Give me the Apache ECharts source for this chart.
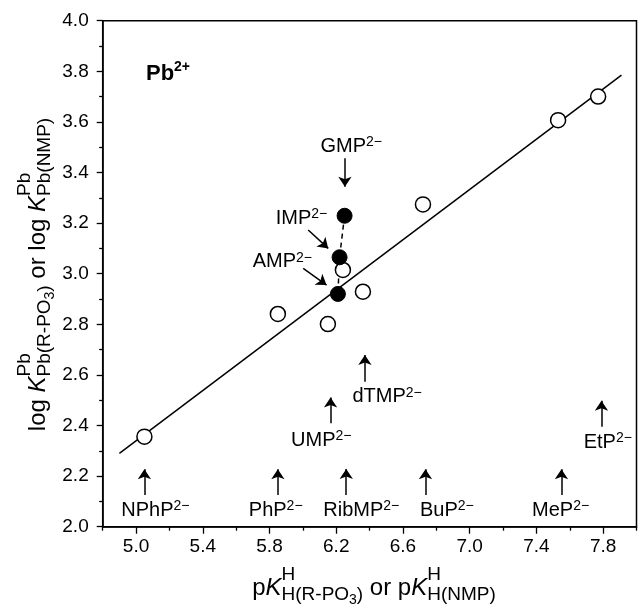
<!DOCTYPE html>
<html>
<head>
<meta charset="utf-8">
<script src="https://cdn.jsdelivr.net/npm/echarts@6/dist/echarts.min.js"></script>
<style>
html, body { margin: 0; padding: 0; background: #fff; }
#chart { width: 638px; height: 604px; }
</style>
</head>
<body>
<div id="chart"></div>
<script>
const FONT = '"Liberation Sans", Arial, sans-serif'

// open circles: simple phosph(on)ates and pyrimidine NMPs
const openNames = ['NPhP', 'PhP', 'UMP', 'RibMP', 'dTMP', 'BuP', 'MeP', 'EtP']
const openX = [5.05, 5.85, 6.15, 6.24, 6.36, 6.72, 7.53, 7.77]
const openY = [2.356, 2.841, 2.801, 3.015, 2.929, 3.274, 3.607, 3.7]

// filled circles: purine NMPs (joined by the dashed line)
const filledNames = ['AMP', 'IMP', 'GMP']
const filledX = [6.21, 6.22, 6.25]
const filledY = [2.92, 3.065, 3.229]

// straight reference line
const lineX = [4.9, 7.91]
const lineY = [2.29, 3.785]

// annotation labels and their arrows
const noteNames = ['NPhP', 'PhP', 'RibMP', 'BuP', 'MeP', 'UMP', 'dTMP', 'EtP', 'GMP', 'IMP', 'AMP']
const noteLabelX = [5.116, 5.837, 6.35, 6.863, 7.545, 6.11, 6.505, 7.828, 6.29, 5.992, 5.877]
const noteLabelY = [2.066, 2.066, 2.066, 2.066, 2.066, 2.342, 2.513, 2.334, 3.503, 3.219, 3.047]
const arrowX1 = [5.05, 5.85, 6.26, 6.735, 7.55, 6.166, 6.372, 7.79, 6.252, 6.032, 6.002]
const arrowY1 = [2.125, 2.125, 2.125, 2.125, 2.125, 2.409, 2.573, 2.395, 3.456, 3.173, 3.021]
const arrowX2 = [5.05, 5.85, 6.26, 6.735, 7.55, 6.166, 6.372, 7.79, 6.252, 6.152, 6.142]
const arrowY2 = [2.227, 2.227, 2.228, 2.227, 2.227, 2.511, 2.679, 2.498, 3.344, 3.1, 2.955]

// ticks
const xMajorTicks = [5.0, 5.4, 5.8, 6.2, 6.6, 7.0, 7.4, 7.8]
const xMinorTicks = [4.8, 5.2, 5.6, 6.0, 6.4, 6.8, 7.2, 7.6, 8.0]
const yMajorTicks = [2.0, 2.2, 2.4, 2.6, 2.8, 3.0, 3.2, 3.4, 3.6, 3.8, 4.0]
const yMinorTicks = [2.1, 2.3, 2.5, 2.7, 2.9, 3.1, 3.3, 3.5, 3.7, 3.9]

const measureCtx = document.createElement('canvas').getContext('2d')

function textWidth(run) {
  measureCtx.font = `${run.italic ? 'italic ' : ''}${run.bold ? 'bold ' : ''}${run.size}px ${FONT}`
  return measureCtx.measureText(run.t).width
}

function makeText(run, x) {
  return {
    type: 'text',
    x,
    y: (run.dy || 0) - run.size * 0.3465,
    style: {
      text: run.t,
      fontSize: run.size,
      fontFamily: FONT,
      fontStyle: run.italic ? 'italic' : 'normal',
      fontWeight: run.bold ? 'bold' : 'normal',
      fill: '#000',
      align: 'left',
      verticalAlign: 'middle',
    },
  }
}

// lays runs out along a baseline; a stack puts sup and sub rows at the same x
function mathText(parts) {
  const els = []
  let x = 0
  for (const p of parts) {
    if (p.stack) {
      let w = 0
      for (const row of p.stack) {
        let rx = x
        for (const r of row) {
          els.push(makeText(r, rx))
          rx += textWidth(r)
        }
        w = Math.max(w, rx - x)
      }
      x += w
    } else {
      els.push(makeText(p, x))
      x += textWidth(p)
    }
  }
  els.forEach((el) => { el.x -= x / 2 })
  return els
}

const M = 24
const S = 19
const xTitle = mathText([
  { t: 'p', size: M },
  { t: 'K', size: M, italic: true },
  { stack: [
    [{ t: 'H', size: S, dy: -16 }],
    [{ t: 'H(R-PO', size: S, dy: 4 }, { t: '3', size: 14, dy: 8 }, { t: ')', size: S, dy: 4 }],
  ] },
  { t: ' or p', size: M },
  { t: 'K', size: M, italic: true },
  { stack: [
    [{ t: 'H', size: S, dy: -16 }],
    [{ t: 'H(NMP)', size: S, dy: 4 }],
  ] },
])

const yTitle = mathText([
  { t: 'log ', size: M },
  { t: 'K', size: M, italic: true },
  { stack: [
    [{ t: 'Pb', size: S, dy: -16 }],
    [{ t: 'Pb(R-PO', size: S, dy: 4 }, { t: '3', size: 14, dy: 8 }, { t: ')', size: S, dy: 4 }],
  ] },
  { t: ' or log ', size: M },
  { t: 'K', size: M, italic: true },
  { stack: [
    [{ t: 'Pb', size: S, dy: -16 }],
    [{ t: 'Pb(NMP)', size: S, dy: 4 }],
  ] },
])

const ionLabel = mathText([
  { t: 'Pb', size: 22, bold: true },
  { t: '2+', size: 14, bold: true, dy: -10 },
])

const chart = echarts.init(document.getElementById('chart'), null, { renderer: 'canvas' })

const axisLine = { lineStyle: { color: '#000', width: 1.5 } }
const labelStyle = { color: '#000', fontSize: 19, fontFamily: FONT }

chart.setOption({
  animation: false,
  backgroundColor: '#fff',
  grid: {
    left: 102.7,
    right: 1.5,
    top: 20.7,
    bottom: 77.3,
    show: true,
    borderColor: '#000',
    borderWidth: 1.5,
  },
  xAxis: [
    {
      type: 'value',
      min: 4.8,
      max: 8.0,
      position: 'bottom',
      axisLine,
      axisTick: { customValues: xMajorTicks, length: 7, lineStyle: { color: '#000', width: 1.3 } },
      axisLabel: { ...labelStyle, customValues: xMajorTicks, margin: 11, formatter: (v) => v.toFixed(1) },
      splitLine: { show: false },
    },
    {
      type: 'value',
      min: 4.8,
      max: 8.0,
      position: 'bottom',
      axisLine: { show: false },
      axisTick: { customValues: xMinorTicks, length: 4, lineStyle: { color: '#000', width: 1.3 } },
      axisLabel: { show: false },
      splitLine: { show: false },
    },
  ],
  yAxis: [
    {
      type: 'value',
      min: 2.0,
      max: 4.0,
      position: 'left',
      axisLine,
      axisTick: { customValues: yMajorTicks, length: 6, lineStyle: { color: '#000', width: 1.3 } },
      axisLabel: { ...labelStyle, customValues: yMajorTicks, margin: 14, formatter: (v) => v.toFixed(1) },
      splitLine: { show: false },
    },
    {
      type: 'value',
      min: 2.0,
      max: 4.0,
      position: 'left',
      axisLine: { show: false },
      axisTick: { customValues: yMinorTicks, length: 3.5, lineStyle: { color: '#000', width: 1.3 } },
      axisLabel: { show: false },
      splitLine: { show: false },
    },
  ],
  graphic: [
    { type: 'group', x: 374, y: 597, children: xTitle },
    { type: 'group', x: 47, y: 274.5, rotation: Math.PI / 2, children: yTitle },
    { type: 'group', x: 168, y: 81.7, children: ionLabel },
  ],
  series: [
    {
      type: 'line',
      data: lineX.map((x, i) => [x, lineY[i]]),
      symbol: 'none',
      lineStyle: { color: '#000', width: 1.5 },
      z: 1,
    },
    {
      type: 'line',
      data: filledX.map((x, i) => [x, filledY[i]]).reverse(),
      symbol: 'none',
      lineStyle: { color: '#000', width: 1.5, type: [5, 4] },
      z: 1,
    },
    {
      type: 'lines',
      coordinateSystem: 'cartesian2d',
      data: arrowX1.map((x, i) => ({ coords: [[x, arrowY1[i]], [arrowX2[i], arrowY2[i]]] })),
      symbol: ['none', 'arrow'],
      symbolSize: [0, 10],
      lineStyle: { color: '#000', width: 1.5, opacity: 1 },
      z: 2,
    },
    {
      type: 'scatter',
      name: 'open',
      data: openX.map((x, i) => [x, openY[i], openNames[i]]),
      symbol: 'circle',
      symbolSize: 15,
      itemStyle: { color: '#fff', borderColor: '#000', borderWidth: 1.5, opacity: 1 },
      z: 3,
    },
    {
      type: 'scatter',
      name: 'filled',
      data: filledX.map((x, i) => [x, filledY[i], filledNames[i]]),
      symbol: 'circle',
      symbolSize: 15,
      itemStyle: { color: '#000', borderColor: '#000', borderWidth: 1, opacity: 1 },
      z: 3,
    },
    {
      type: 'scatter',
      name: 'notes',
      data: noteLabelX.map((x, i) => [x, noteLabelY[i], noteNames[i]]),
      symbolSize: 0,
      itemStyle: { color: 'transparent', opacity: 1 },
      silent: true,
      label: {
        show: true,
        position: 'inside',
        opacity: 1,
        color: '#000',
        formatter: (p) => `{m|${p.value[2]}}{s|2\u2212}`,
        rich: {
          m: { fontSize: 20, fontFamily: FONT, color: '#000', lineHeight: 22 },
          s: { fontSize: 14, fontFamily: FONT, color: '#000', lineHeight: 14, verticalAlign: 'top' },
        },
      },
      z: 4,
    },
  ],
})
</script>
</body>
</html>
